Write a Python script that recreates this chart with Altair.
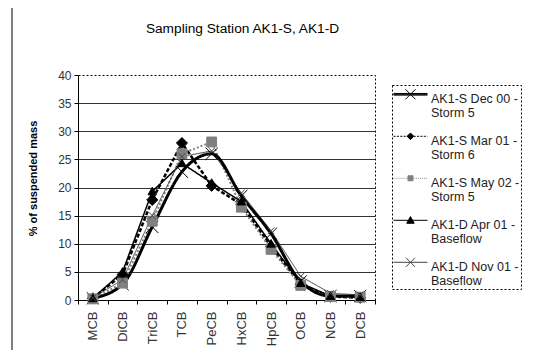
import altair as alt
import pandas as pd

categories = ["MCB", "DiCB", "TriCB", "TCB", "PeCB", "HxCB", "HpCB", "OCB", "NCB", "DCB"]
series = [
    "AK1-S Dec 00 - Storm 5",
    "AK1-S Mar 01 - Storm 6",
    "AK1-S May 02 - Storm 5",
    "AK1-D Apr 01 - Baseflow",
    "AK1-D Nov 01 - Baseflow",
]
dec00 = [0.3, 2.8, 13.0, 22.8, 26.0, 18.5, 11.8, 3.3, 0.7, 0.7]
mar01 = [0.3, 4.5, 17.8, 27.9, 20.3, 17.0, 9.5, 2.8, 0.6, 0.4]
may02 = [0.2, 3.0, 14.0, 26.0, 28.1, 16.5, 9.0, 2.6, 0.6, 0.5]
apr01 = [0.3, 5.0, 19.3, 24.3, 20.8, 17.5, 10.0, 3.0, 0.7, 0.5]
nov01 = [0.4, 3.6, 15.0, 25.5, 26.5, 19.0, 12.3, 4.2, 1.2, 0.9]
values = [dec00, mar01, may02, apr01, nov01]
y_ticks = [0, 5, 10, 15, 20, 25, 30, 35, 40]

rows = []
for s, vals in zip(series, values):
    for c, v in zip(categories, vals):
        rows.append({"category": c, "series": s, "value": v})
df = pd.DataFrame(rows)

# styles
line_colors = ["#000000", "#000000", "#808080", "#000000", "#444444"]
fill_colors = ["#000000", "#000000", "#808080", "#000000", "#444444"]
dashes = [[1, 0], [4, 2], [2, 2], [1, 0], [1, 0]]
widths = [3, 1, 1.3, 1, 1]
X_PATH = "M-1,-1L1,1M-1,1L1,-1"
DIAMOND = "M0,-1L1,0L0,1L-1,0Z"
SQUARE = "M-1,-1H1V1H-1Z"
TRIANGLE = "M0,-1L1,0.8H-1Z"
marker_paths = [X_PATH, DIAMOND, SQUARE, TRIANGLE, X_PATH]
marker_sizes = [150, 45, 30, 55, 110]

# legend symbol paths (line + marker); unit = 12 px, line 34 px long
OFF = -0.35
X0, X1 = -1.0, 1.83
XC = (X0 + X1) / 2


def seg_line(dy, pattern=None):
    if pattern is None:
        return f"M{X0},{OFF+dy:.3f}H{X1}"
    on, off = pattern
    out = []
    x = X0
    while x < X1:
        x2 = min(x + on, X1)
        out.append(f"M{x:.3f},{OFF+dy:.3f}H{x2:.3f}")
        x = x2 + off
    return "".join(out)


def mk_x(r):
    return (f"M{XC-r:.3f},{OFF-r:.3f}L{XC+r:.3f},{OFF+r:.3f}"
            f"M{XC-r:.3f},{OFF+r:.3f}L{XC+r:.3f},{OFF-r:.3f}")


def mk_diamond(r):
    return (f"M{XC:.3f},{OFF-r:.3f}L{XC+r:.3f},{OFF:.3f}"
            f"L{XC:.3f},{OFF+r:.3f}L{XC-r:.3f},{OFF:.3f}Z")


def mk_square(r):
    return f"M{XC-r:.3f},{OFF-r:.3f}H{XC+r:.3f}V{OFF+r:.3f}H{XC-r:.3f}Z"


def mk_tri(r):
    return f"M{XC:.3f},{OFF-r:.3f}L{XC+r:.3f},{OFF+0.8*r:.3f}H{XC-r:.3f}Z"


legend_paths = [
    seg_line(-0.07) + seg_line(0) + seg_line(0.07) + mk_x(0.42),
    seg_line(0, (0.17, 0.11)) + mk_diamond(0.28),
    seg_line(0, (0.07, 0.1)) + mk_square(0.21),
    seg_line(0) + mk_tri(0.31),
    seg_line(0) + mk_x(0.38),
]

font = "Liberation Sans"

x_enc = alt.X(
    "category:N",
    sort=categories,
    scale=alt.Scale(type="band", domain=categories, paddingInner=0, paddingOuter=0),
    axis=alt.Axis(
        title=None, labelAngle=-90, tickBand="extent", domainColor="#000",
        tickColor="#000", tickSize=4, labelFont=font, labelFontSize=13,
        labelColor="#333", labelPadding=7, grid=False,
    ),
)
y_enc = alt.Y(
    "value:Q",
    scale=alt.Scale(domain=[0, 40], nice=False),
    axis=alt.Axis(
        title="% of suspended mass", values=y_ticks, tickSize=4,
        domainColor="#000", tickColor="#000", gridColor="#333",
        gridOpacity={"condition": {"test": "datum.value >= 40 || datum.value <= 0", "value": 0}, "value": 1},
        labelFont=font, labelFontSize=12, labelColor="#333", labelPadding=3,
        titleFont=font, titleFontSize=11, titleFontWeight="bold", titleColor="#000",
        titleX=-45, titleY=103, titleBaseline="middle", titleAlign="center",
    ),
)

color_enc = alt.Color("series:N", scale=alt.Scale(domain=series, range=line_colors), legend=None)
dash_enc = alt.StrokeDash("series:N", scale=alt.Scale(domain=series, range=dashes), legend=None)
width_enc = alt.StrokeWidth("series:N", scale=alt.Scale(domain=series, range=widths), legend=None)

base = alt.Chart(df)

frame = alt.Chart(pd.DataFrame({"a": [0]})).mark_rect(
    fillOpacity=0, stroke="#000", strokeWidth=1
).encode(
    x=alt.value(-66), x2=alt.value(600), y=alt.value(-70), y2=alt.value(280)
)

thin_lines = base.mark_line().encode(
    x=x_enc, y=y_enc, color=color_enc, strokeDash=dash_enc, strokeWidth=width_enc,
    detail="series:N",
).transform_filter(alt.datum.series != series[0])

thick_line = base.mark_line(interpolate="monotone").encode(
    x=x_enc, y=y_enc, color=color_enc, strokeDash=dash_enc, strokeWidth=width_enc,
    detail="series:N",
).transform_filter(alt.datum.series == series[0])

points = base.mark_point(filled=True, opacity=1, strokeWidth=1).encode(
    x=x_enc, y=y_enc,
    shape=alt.Shape("series:N", scale=alt.Scale(domain=series, range=marker_paths), legend=None),
    fill=alt.Fill("series:N", scale=alt.Scale(domain=series, range=fill_colors), legend=None),
    stroke=alt.Stroke("series:N", scale=alt.Scale(domain=series, range=line_colors), legend=None),
    size=alt.Size("series:N", scale=alt.Scale(domain=series, range=marker_sizes), legend=None),
)

legend_cfg = alt.Legend(
    title=None, orient="none", legendX=314, legendY=10,
    labelExpr="[split(datum.label, ' - ')[0] + ' -', split(datum.label, ' - ')[1]]",
)

legend_layer = base.mark_point(filled=True, opacity=1, strokeWidth=1).encode(
    x=x_enc, y=y_enc,
    shape=alt.Shape("series:N", scale=alt.Scale(domain=series, range=legend_paths), legend=legend_cfg),
    fill=alt.Fill("series:N", scale=alt.Scale(domain=series, range=fill_colors), legend=legend_cfg),
    stroke=alt.Stroke("series:N", scale=alt.Scale(domain=series, range=line_colors), legend=legend_cfg),
).transform_filter("false")

chart = alt.layer(frame, thin_lines, thick_line, points, legend_layer).resolve_scale(
    shape="independent", fill="independent", stroke="independent"
).properties(
    width=297, height=225,
    autosize=alt.AutoSizeParams(type="none"),
    padding={"left": 70, "top": 67, "right": 156, "bottom": 50},
    title=alt.TitleParams(
        "Sampling Station AK1-S, AK1-D", font=font, fontSize=13.7, fontWeight="normal",
        color="#000", frame="group", anchor="middle", dx=16, offset=-42, baseline="alphabetic",
    ),
).configure_view(
    stroke="#000", strokeDash=[2, 2], strokeWidth=1
).configure_legend(
    padding=1, strokeColor="#000", strokeDash=[2, 2], fillColor="#fff",
    labelFont=font, labelFontSize=12.5, labelColor="#222", rowPadding=8,
    symbolSize=576, symbolStrokeWidth=1, labelOffset=13, labelLimit=200,
)

chart.save("out.html", embed_options={"renderer": "svg", "actions": False})
